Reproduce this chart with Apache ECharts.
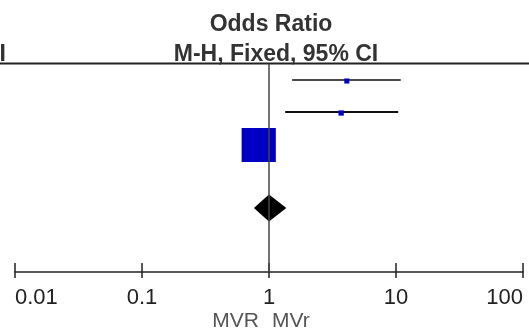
<!DOCTYPE html>
<html>
<head>
<meta charset="utf-8">
<script src="https://cdn.jsdelivr.net/npm/echarts@6/dist/echarts.min.js"></script>
<style>
  html, body { margin: 0; padding: 0; background: #fff; }
  #chart { width: 529px; height: 333px; }
</style>
</head>
<body>
<div id="chart"></div>
<script>
// forest plot data (odds ratios)
var studyRows = [0, 1, 2];
var orPoint = [4.1, 3.7, 0.83];
var ciLow = [1.52, 1.34, 0.68];
var ciHigh = [10.9, 10.4, 1.02];
var weights = [2.1, 2.3, 95.6]; // % weight -> square size

var totalRow = 4;
var totalOR = [1.0];
var totalLow = [0.76];
var totalHigh = [1.37];

var tickLabels = ['0.01', '0.1', '1', '10', '100'];
var nullValue = 1;

var chart = echarts.init(document.getElementById('chart'));

var studyData = studyRows.map(function (r, i) {
  return [orPoint[i], r, ciLow[i], ciHigh[i], weights[i], 0];
});
studyData.push([totalOR[0], totalRow, totalLow[0], totalHigh[0], 0, 1]);

function renderItem(params, api) {
  var pt = api.coord([api.value(0), api.value(1)]);
  var lo = api.coord([api.value(2), api.value(1)]);
  var hi = api.coord([api.value(3), api.value(1)]);
  if (api.value(5) === 1) {
    // pooled estimate diamond
    var h = 13.5;
    return {
      type: 'polygon',
      shape: { points: [[lo[0], pt[1]], [pt[0], pt[1] - h], [hi[0], pt[1]], [pt[0], pt[1] + h]] },
      style: { fill: '#000' }
    };
  }
  var s = Math.sqrt(api.value(4)) * 3.5;
  return {
    type: 'group',
    children: [
      {
        type: 'line',
        shape: { x1: lo[0], y1: lo[1], x2: hi[0], y2: hi[1] },
        style: { stroke: params.dataIndex === 0 ? '#4a4a4a' : '#111', lineWidth: 2 }
      },
      {
        type: 'rect',
        shape: { x: pt[0] - s / 2, y: pt[1] - s / 2 + 1, width: s, height: s },
        style: { fill: '#0000c4' }
      }
    ]
  };
}

var option = {
  animation: false,
  grid: { left: 15, right: 6, top: 64, bottom: 61 },
  xAxis: [
    {
      type: 'log',
      logBase: 10,
      min: 0.01,
      max: 100,
      axisLine: { onZero: false, lineStyle: { color: '#222', width: 1.5 } },
      axisTick: { show: true, length: 6, lineStyle: { color: '#222', width: 1.5 } },
      splitLine: { show: false },
      minorTick: { show: false },
      axisLabel: {
        color: '#222',
        fontSize: 22,
        fontFamily: 'Liberation Sans, Arial, sans-serif',
        margin: 15,
        alignMinLabel: 'left',
        alignMaxLabel: 'right',
        formatter: function (v) {
          var idx = Math.round(Math.log10(v)) + 2;
          return tickLabels[idx] !== undefined ? tickLabels[idx] : '';
        }
      }
    },
    {
      type: 'log',
      logBase: 10,
      min: 0.01,
      max: 100,
      position: 'bottom',
      offset: 0,
      axisLine: { show: false, onZero: false },
      axisTick: { show: true, inside: true, length: 9, lineStyle: { color: '#222', width: 1.5 } },
      axisLabel: { show: false },
      splitLine: { show: false }
    }
  ],
  yAxis: {
    type: 'value',
    inverse: true,
    min: -0.5,
    max: 6,
    show: false
  },
  series: [
    {
      type: 'line',
      data: [],
      z: 1,
      markLine: {
        silent: true,
        symbol: 'none',
        label: { show: false },
        lineStyle: { color: '#444', width: 1.5, type: 'solid' },
        data: [{ xAxis: nullValue }]
      }
    },
    {
      type: 'custom',
      z: 3,
      renderItem: renderItem,
      encode: { x: 0, y: 1 },
      data: studyData
    }
  ],
  graphic: [
    {
      type: 'line',
      shape: { x1: 0, y1: 63.5, x2: 529, y2: 63.5 },
      style: { stroke: '#222', lineWidth: 2 }
    },
    {
      type: 'text', x: 271, y: 25,
      style: { text: 'Odds Ratio', font: 'bold 23px Liberation Sans, Arial, sans-serif', fill: '#333', align: 'center', verticalAlign: 'middle' }
    },
    {
      type: 'text', x: 276, y: 55,
      style: { text: 'M-H, Fixed, 95% CI', font: 'bold 23px Liberation Sans, Arial, sans-serif', fill: '#333', align: 'center', verticalAlign: 'middle' }
    },
    {
      type: 'text', x: 6, y: 55,
      style: { text: 'CI', font: 'bold 23px Liberation Sans, Arial, sans-serif', fill: '#333', align: 'right', verticalAlign: 'middle' }
    },
    {
      type: 'text', x: 259, y: 321,
      style: { text: 'MVR', font: '21px Liberation Sans, Arial, sans-serif', fill: '#555', align: 'right', verticalAlign: 'middle' }
    },
    {
      type: 'text', x: 272, y: 321,
      style: { text: 'MVr', font: '21px Liberation Sans, Arial, sans-serif', fill: '#555', align: 'left', verticalAlign: 'middle' }
    }
  ]
};

chart.setOption(option);
</script>
</body>
</html>
